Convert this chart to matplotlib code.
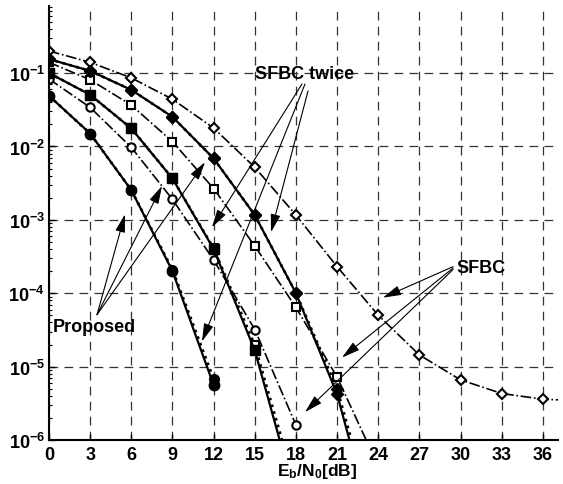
import numpy as np
import matplotlib
matplotlib.use('Agg')
import matplotlib.pyplot as plt
from matplotlib.ticker import FixedLocator, LogLocator, FuncFormatter, NullFormatter

plt.rcParams['font.family'] = ['Liberation Sans', 'DejaVu Sans']
plt.rcParams['font.weight'] = 'bold'
plt.rcParams['font.size'] = 13
plt.rcParams['mathtext.fontset'] = 'custom'
plt.rcParams['mathtext.rm'] = 'Liberation Sans:bold'
plt.rcParams['mathtext.bf'] = 'Liberation Sans:bold'
plt.rcParams['mathtext.it'] = 'Liberation Sans:bold'


# ==============================
# Data
# ==============================

# Proposed scheme (solid lines, filled markers)
prop_circle_snr = [0, 3, 6, 9, 12]
prop_circle_ber = [0.049, 0.015, 0.00254, 2.0e-4, 5.6e-6]
prop_square_snr = [0, 3, 6, 9, 12, 15, 18]
prop_square_ber = [0.10, 0.0506, 0.0176, 0.00366, 4.0e-4, 1.66e-5, 1.6e-7]
prop_diamond_snr = [0, 3, 6, 9, 12, 15, 18, 21, 24]
prop_diamond_ber = [0.155, 0.107, 0.059, 0.0253, 0.00686, 1.16e-3, 1.0e-4, 4.2e-6, 3.5e-8]

# SFBC twice (dotted lines)
twice_circle_snr = [0, 3, 6, 9, 12]
twice_circle_ber = [0.049, 0.015, 0.00254, 2.1e-4, 6.8e-6]
twice_square_snr = [0, 3, 6, 9, 12, 15, 18]
twice_square_ber = [0.10, 0.0506, 0.0176, 0.00366, 4.1e-4, 1.95e-5, 2.2e-7]
twice_diamond_snr = [0, 3, 6, 9, 12, 15, 18, 21, 24]
twice_diamond_ber = [0.155, 0.107, 0.059, 0.0253, 0.00686, 1.16e-3, 1.0e-4, 5.0e-6, 5e-8]

# SFBC (dash-dot lines, open markers)
sfbc_circle_snr = [0, 3, 6, 9, 12, 15, 18]
sfbc_circle_ber = [0.083, 0.034, 0.0097, 0.0019, 2.84e-4, 3.2e-5, 1.6e-6]
sfbc_square_snr = [0, 3, 6, 9, 12, 15, 18, 21, 24]
sfbc_square_ber = [0.14, 0.081, 0.0366, 0.0116, 0.00267, 4.4e-4, 6.4e-5, 7.2e-6, 4.4e-7]
sfbc_diamond_snr = [0, 3, 6, 9, 12, 15, 18, 21, 24, 27, 30, 33, 36, 39]
sfbc_diamond_ber = [0.20, 0.14, 0.086, 0.044, 0.0178, 5.2e-3, 1.16e-3, 2.3e-4,
                    5.0e-5, 1.44e-5, 6.6e-6, 4.3e-6, 3.6e-6, 3.4e-6]

x_ticks = [0, 3, 6, 9, 12, 15, 18, 21, 24, 27, 30, 33, 36]

# annotation arrows: (tail, head) in data coordinates
proposed_arrows = [((3.5, 5.1e-5), (5.54, 1.19e-3)),
                   ((3.5, 5.1e-5), (8.24, 2.9e-3)),
                   ((3.5, 5.1e-5), (11.37, 6.1e-3))]
twice_arrows = [((18.44, 0.071), (11.88, 7.9e-4)),
                ((18.66, 0.071), (11.15, 2.2e-5)),
                ((18.88, 0.057), (16.18, 6.8e-4))]
sfbc_arrows = [((29.45, 2.3e-4), (24.34, 8.7e-5)),
               ((29.45, 2.2e-4), (21.36, 1.33e-5)),
               ((29.45, 2.1e-4), (18.66, 2.4e-6))]


# ==============================
# Plot
# ==============================

fig = plt.figure(figsize=(5.63, 4.85), dpi=100)
ax = fig.add_axes([49 / 563, 1 - 441 / 485, 509 / 563, 434 / 485])

# SFBC
sfbc_style = dict(color='black', linestyle='-.', linewidth=1.2,
                  markerfacecolor='white', markeredgecolor='black',
                  markeredgewidth=1.5, markersize=6)
ax.semilogy(sfbc_circle_snr, sfbc_circle_ber, marker='o', **sfbc_style)
ax.semilogy(sfbc_square_snr, sfbc_square_ber, marker='s', **sfbc_style)
ax.semilogy(sfbc_diamond_snr, sfbc_diamond_ber, marker='D', **{**sfbc_style, 'markersize': 5.5})

# SFBC twice
twice_style = dict(color='black', linestyle=':', linewidth=1.9, markeredgecolor='black')
ax.semilogy(twice_circle_snr, twice_circle_ber, marker='o', markersize=7,
            markerfacecolor='black', **twice_style)
ax.semilogy(twice_square_snr, twice_square_ber, marker='s', markersize=6,
            markerfacecolor='white', markeredgewidth=1.5, **twice_style)
ax.semilogy(twice_diamond_snr, twice_diamond_ber, marker='D', markersize=6,
            markerfacecolor='black', **twice_style)

# Proposed
prop_style = dict(color='black', linestyle='-', linewidth=1.6,
                  markerfacecolor='black', markeredgecolor='black')
ax.semilogy(prop_circle_snr, prop_circle_ber, marker='o', markersize=7.5, **prop_style)
ax.semilogy(prop_square_snr, prop_square_ber, marker='s', markersize=7.5, **prop_style)
ax.semilogy(prop_diamond_snr, prop_diamond_ber, marker='D', markersize=6.5, **prop_style)

# Labels with arrows
arrow_props = dict(arrowstyle='-|>,head_length=1.1,head_width=0.3', color='black',
                   linewidth=0.8, shrinkA=0, shrinkB=0, mutation_scale=10)
for tail, head in proposed_arrows + twice_arrows + sfbc_arrows:
    ax.annotate('', xy=head, xytext=tail, arrowprops=arrow_props)

ax.text(0.3, 3.5e-5, 'Proposed', fontsize=13, fontweight='bold', va='center', ha='left')
ax.text(15.0, 0.1, 'SFBC twice', fontsize=13, fontweight='bold', va='center', ha='left')
ax.text(29.7, 2.25e-4, 'SFBC', fontsize=13, fontweight='bold', va='center', ha='left')

# Axes
ax.set_xlim(0, 37.1)
ax.set_ylim(1e-6, 0.82)
ax.xaxis.set_major_locator(FixedLocator(x_ticks))
ax.yaxis.set_major_locator(LogLocator(base=10, numticks=10))
ax.yaxis.set_minor_locator(LogLocator(base=10, subs=np.arange(2, 10), numticks=10))
ax.yaxis.set_minor_formatter(NullFormatter())
ax.yaxis.set_major_formatter(FuncFormatter(
    lambda v, _: r'$\mathbf{10^{%d}}$' % int(round(np.log10(v)))))

ax.tick_params(axis='both', which='major', direction='in', length=4, width=1,
               labelsize=13, pad=3)
ax.tick_params(axis='x', which='major', pad=4)
ax.tick_params(axis='y', which='minor', direction='in', length=2.5, width=0.8)

ax.spines['top'].set_visible(False)
ax.spines['right'].set_visible(False)
ax.spines['left'].set_linewidth(1.5)
ax.spines['bottom'].set_linewidth(1.5)

ax.grid(True, which='major', color='#333333', linestyle=(0, (7, 5)), linewidth=0.9)
ax.set_axisbelow(True)

ax.set_xlabel(r'E$_\mathbf{b}$/N$_\mathbf{0}$[dB]', fontsize=12.5, fontweight='bold')
ax.xaxis.set_label_coords(0.527, -0.049)

fig.savefig('out.png', dpi=100)
